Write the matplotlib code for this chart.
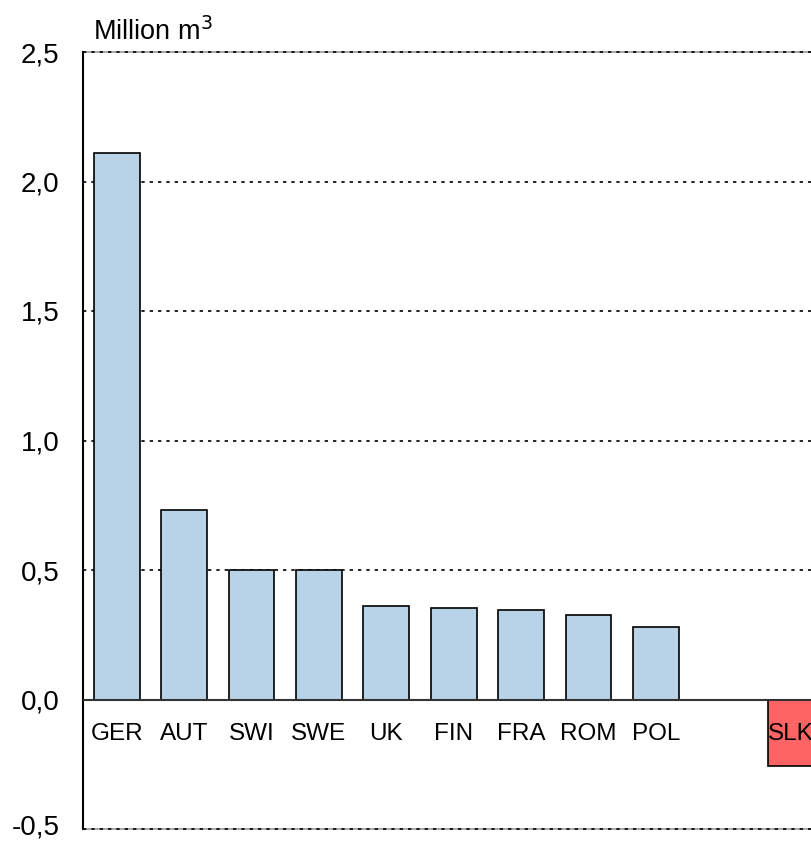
import matplotlib
matplotlib.use("Agg")
import matplotlib.pyplot as plt
import matplotlib.transforms as mtransforms

categories = ["GER", "AUT", "SWI", "SWE", "UK", "FIN", "FRA", "ROM", "POL", "", "SLK"]
values = [2.11, 0.73, 0.50, 0.50, 0.36, 0.355, 0.347, 0.328, 0.278, 0.0, -0.258]
colors = ["#B8D3E8"] * 9 + ["none", "#FF6464"]
yticks = [-0.5, 0.0, 0.5, 1.0, 1.5, 2.0, 2.5]
ytick_labels = ["-0,5", "0,0", "0,5", "1,0", "1,5", "2,0", "2,5"]

plt.rcParams['font.family'] = ['Liberation Sans', 'DejaVu Sans']

W, H = 812, 843
fig = plt.figure(figsize=(W / 100, H / 100), dpi=100)
left_px, right_px, top_px, bot_px = 83, 880, 52, 829
ax = fig.add_axes([left_px / W, 1 - bot_px / H, (right_px - left_px) / W, (bot_px - top_px) / H])

step = 67.4
xmax = -0.5 + (right_px - left_px) / step
ax.set_xlim(-0.5, xmax)
ax.set_ylim(-0.5, 2.5)

for y in [0.5, 1.0, 1.5, 2.0]:
    ax.axhline(y, color="black", linestyle=(0, (2, 3)), linewidth=1.2, zorder=1)
for y in [2.5, -0.5]:
    ax.axhline(y, color="#999999", linewidth=1.2, zorder=1, clip_on=False)
    ax.axhline(y, color="black", linestyle=(0, (2, 3)), linewidth=1.2, zorder=1, clip_on=False)

xs = list(range(len(categories)))
for x, v, c in zip(xs, values, colors):
    if c == "none":
        continue
    ax.bar(x, v, width=0.68, color=c, edgecolor="black", linewidth=1.2, zorder=2)

ax.axhline(0, color="#333333", linewidth=1.5, zorder=3)

for x, lab in zip(xs, categories):
    if lab:
        ax.text(x, -0.135, lab, ha="center", va="center", fontsize=17.5, zorder=4)

ax.set_yticks(yticks)
ax.set_yticklabels(ytick_labels, fontsize=20)
ax.tick_params(axis="y", length=0, pad=17)
ax.set_xticks([])
for s in ["top", "right", "bottom"]:
    ax.spines[s].set_visible(False)
ax.spines["left"].set_linewidth(1.5)

# nudge the bottom tick label up slightly so it stays within the figure
bottom_label = ax.get_yticklabels()[0]
bottom_label.set_transform(bottom_label.get_transform() +
                           mtransforms.ScaledTranslation(0, 4 / 100, fig.dpi_scale_trans))

fig.text(93 / W, 1 - 40 / H, "Million m$^3$", fontsize=19.5, ha="left", va="baseline")

fig.savefig("out.png", dpi=100)
